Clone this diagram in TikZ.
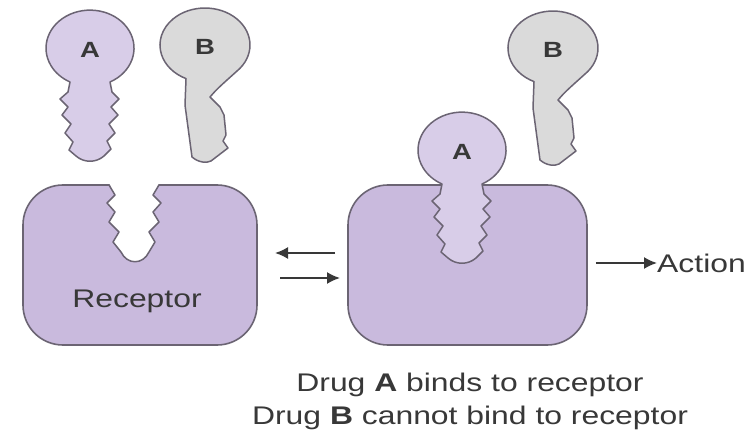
\documentclass[tikz,border=0pt]{standalone}
\usepackage{fontspec}
\setmainfont{Liberation Sans}[FakeStretch=1.25]
\usetikzlibrary{arrows.meta}

\definecolor{recfill}{HTML}{C9BADD}
\definecolor{keyfill}{HTML}{D8CDE8}
\definecolor{greykey}{HTML}{DADADA}
\definecolor{edge}{HTML}{6B6473}
\definecolor{txt}{HTML}{383838}

\tikzset{
    keyline/.style={draw=edge, line width=1.5pt, line join=round},
    keylabel/.style={text=txt, font=\bfseries\fontsize{22}{22}\selectfont},
    % key that fits the receptor
    fitkey/.pic={
        \filldraw[keyline, fill=keyfill] (-20,34) -- (-22,44) -- (-30,51) -- (-22,59)
            -- (-28,67) -- (-19,76) -- (-25,85) -- (-17,94) -- (-21,102) -- (-14,108)
            .. controls (-6,115) and (6,115) .. (14,108) -- (21,101) -- (17,93)
            -- (25,85) -- (19,76) -- (28,67) -- (21,59) -- (29,51) -- (22,44) -- (20,34)
            arc[start angle=63, end angle=-243, x radius=44, y radius=38] -- cycle;
        \node[keylabel] (-lbl) at (0,2) {#1};
    },
    % key that does not fit
    oddkey/.pic={
        \filldraw[keyline, fill=greykey] (-19,34) -- (-20,60) -- (-13,112)
            .. controls (-6,118) and (2,118) .. (6,116) -- (23,103) -- (18,96)
            -- (21,90) -- (19,70) -- (15,62) -- (5,52)
            .. controls (12,44) .. (31.8,26.2)
            arc[start angle=45, end angle=-245, x radius=45, y radius=37] -- cycle;
        \node[keylabel] (-lbl) at (0,2) {#1};
    }
}

\begin{document}
\begin{tikzpicture}[
    x=1pt, y=-1pt,
    recline/.style={draw=edge, line width=1.6pt, fill=recfill},
    caption/.style={text=txt, font=\fontsize{25.5}{33}\selectfont},
    flow/.style={-{Latex[length=13pt,width=12pt]}, line width=1.8pt, draw=txt}
]
    \fill[white] (0,0) rectangle (748,436);
    \useasboundingbox (0,0) rectangle (748,436);

    % Empty receptor
    \node[recline, rounded corners=40, minimum width=234pt, minimum height=160pt]
        (rec) at (140,265) {};
    % its binding site
    \fill[white] (109,183) -- (115,195) -- (107,203) -- (115,212) -- (109,222)
        -- (119,232) -- (113,242) -- (121,252) .. controls (127,265) and (143,265) .. (149,252)
        -- (155,242) -- (149,232) -- (159,222) -- (153,212) -- (161,203)
        -- (153,195) -- (159,183) -- cycle;
    \draw[keyline] (109,185) -- (115,195) -- (107,203) -- (115,212) -- (109,222)
        -- (119,232) -- (113,242) -- (121,252) .. controls (127,265) and (143,265) .. (149,252)
        -- (155,242) -- (149,232) -- (159,222) -- (153,212) -- (161,203)
        -- (153,195) -- (159,185);
    \node[caption] (reclbl) at (137,301) {Receptor};

    % Occupied receptor
    \node[recline, rounded corners=40, minimum width=239pt, minimum height=160pt]
        (occ) at (467.5,265) {};

    % Drugs
    \pic (freeA) at (90,48) {fitkey=A};
    \pic (freeB) at (205,45) {oddkey=B};
    \pic (boundA) at (462,150) {fitkey=A};
    \pic (leftB) at (553,48) {oddkey=B};

    % Equilibrium arrows
    \coordinate (bk1) at (335,253);
    \coordinate (bk2) at (275,253);
    \coordinate (fw1) at (280,278);
    \coordinate (fw2) at (340,278);
    \draw[flow] (bk1) -- (bk2);
    \draw[flow] (fw1) -- (fw2);

    % Response
    \node[caption, anchor=west, inner sep=0pt] (act) at (657,263) {Action};
    \draw[flow] ([xshift=8pt]occ.east |- act.west) -- (act.west);

    \node[caption, align=center] (note) at (470,401)
        {Drug \textbf{A} binds to receptor\\Drug \textbf{B} cannot bind to receptor};
\end{tikzpicture}
\end{document}
